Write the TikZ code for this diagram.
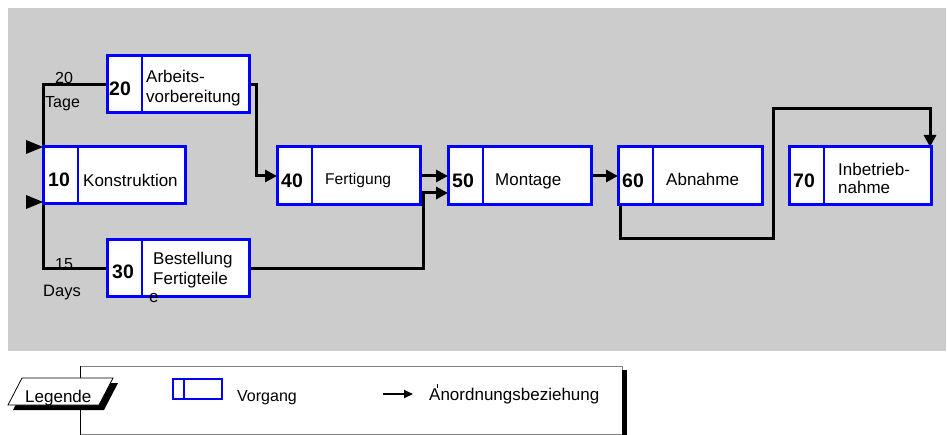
\documentclass[tikz,border=0pt]{standalone}
\usepackage{fontspec}
\setmainfont{Liberation Sans}
\usetikzlibrary{arrows.meta,calc}
\definecolor{bggray}{RGB}{204,204,204}
\definecolor{boxblue}{RGB}{0,0,255}
\definecolor{framegray}{RGB}{128,128,128}
\begin{document}
\begin{tikzpicture}[x=1pt,y=-1pt,
  taskbox/.style={draw=boxblue, fill=white, line width=3pt, minimum width=142pt,
    minimum height=57pt, anchor=north west, inner sep=0pt, outer sep=0pt},
  divider/.style={draw=boxblue, line width=1.8pt},
  conn/.style={draw=black, line width=3pt},
  connarrow/.style={conn, -{Triangle[length=12pt,width=12pt]}},
  numtxt/.style={anchor=base west, inner sep=0pt, font=\fontsize{19.5}{22}\selectfont\bfseries},
  lbl/.style={anchor=base west, inner sep=0pt, font=\fontsize{17}{20}\selectfont},
  smalllbl/.style={anchor=base west, inner sep=0pt, font=\fontsize{16}{19}\selectfont},
]
\useasboundingbox (0,0) rectangle (947,435);
% background
\fill[bggray] (8,8) rectangle (946,351);

% boxes (positions only, drawn later on top)
\path (43,147) node[taskbox, draw=none, fill=none] (b10) {};
\path (107,56) node[taskbox, draw=none, fill=none] (b20) {};
\path (107,240) node[taskbox, draw=none, fill=none] (b30) {};
\path (277,147) node[taskbox, draw=none, fill=none, minimum width=143pt, minimum height=58pt] (b40) {};
\path (448,147) node[taskbox, draw=none, fill=none, minimum width=143pt, minimum height=58pt] (b50) {};
\path (618,147) node[taskbox, draw=none, fill=none, minimum width=144pt, minimum height=58pt] (b60) {};
\path (789,147) node[taskbox, draw=none, fill=none, minimum width=142pt, minimum height=58pt] (b70) {};

% duration labels
\node[smalllbl] (d20) at (55,84) {20};
\node[smalllbl] (t20) at (45,108) {Tage};
\node[smalllbl] (d15) at (55,270) {15};
\node[smalllbl, font=\fontsize{16.5}{19}\selectfont] (t15) at (43,297) {Days};

% connectors
\draw[conn] (b20.west) -| (b10.north west);
\draw[conn] (b10.south west) |- (b30.west);
\draw[connarrow] (b20.east) -- ++(7,0) |- (b40.west);
\coordinate (j50) at (423,193);
\draw[connarrow] (b30.east) -| (j50) -- (b50.west |- j50);
\draw[connarrow] (b40.east) -- (b50.west);
\draw[connarrow] (b50.east) -- (b60.west);
\coordinate (k1) at (773,239);
\coordinate (k2) at (930,109);
\draw[connarrow] ([xshift=2pt]b60.south west) |- (k1) |- (k2) -- (k2 |- b70.north);

% start triangles
\fill[black] (b10.north west) -- ++(-17,-7) -- ++(0,14) -- cycle;
\fill[black] ([yshift=2pt]b10.south west) -- ++(-17,-7) -- ++(0,14) -- cycle;

% boxes drawn
\foreach \b/\w/\h in {b10/142/57, b20/142/56, b30/142/57, b40/143/58, b50/143/58, b60/144/58, b70/142/58} {
  \draw[draw=boxblue, fill=white, line width=3pt] (\b.north west) rectangle (\b.south east);
  \draw[divider] ([xshift=35pt]\b.north west) -- ([xshift=35pt]\b.south west);
}

% box texts
\node[numtxt] (n10) at (48,187) {10};
\node[lbl] (l10) at (83,187) {Konstruktion};
\node[numtxt] (n20) at (109,96) {20};
\node[lbl] (l20a) at (146,83) {Arbeits-};
\node[lbl] (l20b) at (146,103) {vorbereitung};
\node[numtxt] (n30) at (112,279) {30};
\node[lbl] (l30a) at (153,265) {Bestellung};
\node[lbl] (l30b) at (153,285) {Fertigteile};
\node[lbl] (l30c) at (149,303) {e};
\node[numtxt] (n40) at (281,188) {40};
\node[lbl, font=\fontsize{15.6}{19}\selectfont] (l40) at (325,185) {Fertigung};
\node[numtxt] (n50) at (452,188) {50};
\node[lbl] (l50) at (495,186) {Montage};
\node[numtxt] (n60) at (622,188) {60};
\node[lbl] (l60) at (666,186) {Abnahme};
\node[numtxt] (n70) at (793,188) {70};
\node[lbl] (l70a) at (838,176) {Inbetrieb-};
\node[lbl] (l70b) at (838,194) {nahme};

% legend frame
\draw[framegray, line width=1pt] (80,366) rectangle (622,434);
\draw[black, line width=0.8pt] (80,366) -- (80,435);
\fill[black] (622,370) rectangle (627,435);

% Legende parallelogram
\fill[black] (13,410) -- (27,383) -- (118,383) -- (104,410) -- cycle;
\draw[black, fill=white, line width=0.8pt] (8,405) -- (22,378) -- (113,378) -- (99,405) -- cycle;
\node[lbl] (leg) at (25,402) {Legende};

% legend items
\node[draw=boxblue, line width=1.5pt, minimum width=49pt, minimum height=20pt, inner sep=0pt, outer sep=0pt] (icon) at (197.5,389) {};
\draw[boxblue, line width=1.5pt] ([xshift=11pt]icon.north west) -- ([xshift=11pt]icon.south west);
\node[smalllbl] (vg) at (237,401) {Vorgang};
\coordinate (la1) at (383,394);
\coordinate (la2) at (413,394);
\draw[line width=2.5pt, -{Triangle[length=9pt,width=8pt]}] (la1) -- (la2);
\node[lbl] (ab) at (429,400) {Anordnungsbeziehung};
\draw[black, line width=0.6pt] (437,384) -- (437,388);
\end{tikzpicture}
\end{document}
